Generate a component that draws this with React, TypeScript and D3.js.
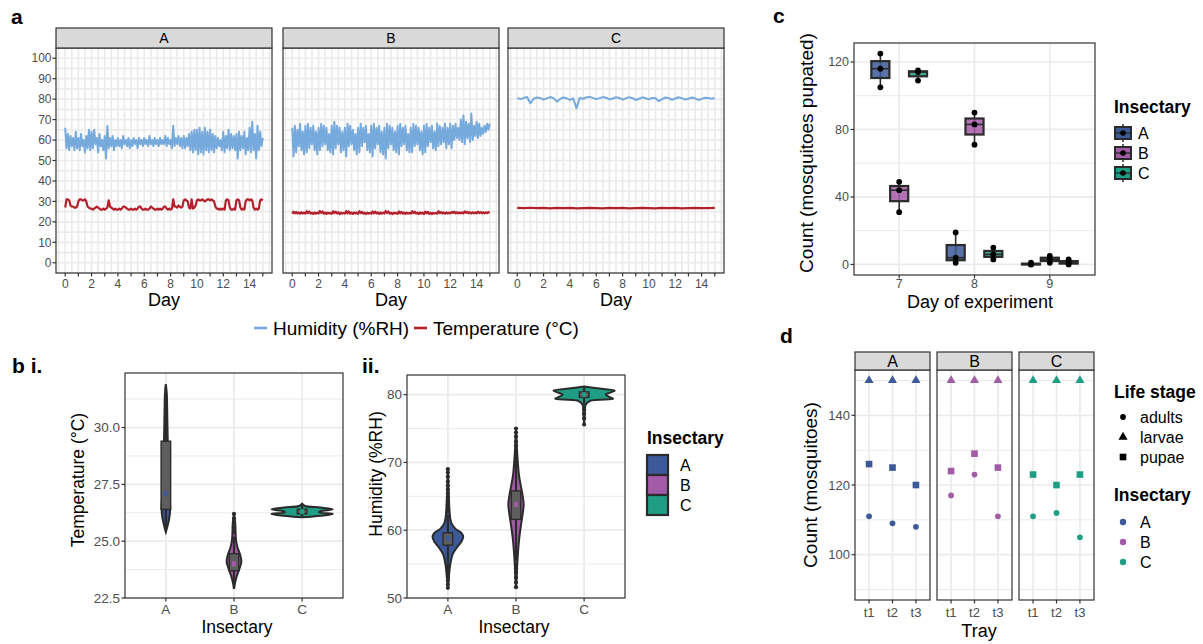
import React, { useEffect, useRef } from 'react';
import * as d3 from 'd3';

const FONT = '"Liberation Sans", Arial, Helvetica, sans-serif';
const INK = '#333333';
const TICK_TEXT = '#4d4d4d';
const GRID = '#ebebeb';

const insectaries = ['A', 'B', 'C'];
const insectaryColors = ['#3c5a9a', '#a35aa7', '#1f9e85'];
const humidityColor = '#76a9dc';
const temperatureColor = '#b3202b';

// a: logger readings, one every 0.1 day (C: humidity every 0.25 day, temperature every 0.5 day)
const humidityA = [
  66, 56, 63, 55, 62, 57, 61, 55, 64, 56,
  61, 55, 63, 57, 60, 54, 62, 56, 65, 55,
  64, 56, 65, 58, 61, 54, 63, 57, 60, 55,
  62, 51, 67, 56, 61, 57, 62, 55, 60, 57,
  61, 57, 60, 56, 62, 58, 60, 57, 61, 56,
  60, 57, 61, 58, 60, 56, 61, 58, 60, 57,
  61, 58, 60, 57, 62, 58, 60, 57, 61, 58,
  60, 57, 61, 58, 60, 58, 62, 57, 61, 58,
  60, 56, 67, 57, 61, 58, 62, 57, 61, 56,
  62, 56, 61, 57, 63, 55, 64, 54, 65, 55,
  65, 53, 66, 54, 64, 53, 66, 55, 64, 54,
  65, 55, 63, 54, 62, 56, 61, 57, 60, 55,
  64, 54, 62, 56, 65, 55, 63, 56, 62, 55,
  63, 51, 64, 55, 62, 56, 64, 53, 61, 55,
  66, 54, 69, 55, 63, 51, 67, 55, 64, 57,
  61,
];
const humidityB = [
  66, 52, 67, 54, 65, 57, 68, 55, 64, 53,
  67, 54, 68, 56, 66, 58, 67, 55, 64, 53,
  66, 55, 68, 57, 67, 58, 66, 55, 63, 54,
  67, 53, 69, 56, 67, 58, 66, 54, 64, 55,
  66, 52, 68, 57, 67, 58, 65, 55, 63, 53,
  66, 54, 68, 57, 66, 59, 67, 55, 63, 54,
  67, 52, 68, 56, 66, 58, 67, 54, 64, 53,
  66, 51, 68, 56, 67, 58, 66, 55, 64, 54,
  67, 53, 68, 57, 66, 58, 67, 55, 63, 54,
  66, 54, 68, 57, 67, 58, 66, 55, 64, 53,
  67, 54, 68, 57, 66, 59, 67, 56, 64, 55,
  68, 57, 67, 58, 66, 59, 68, 56, 66, 58,
  68, 56, 67, 60, 68, 61, 66, 60, 70, 59,
  72, 58, 69, 61, 68, 59, 73, 60, 67, 62,
  69, 61, 68, 62, 66, 63, 67, 64, 68, 65,
  68,
];
const humidityC = [
  80.5, 80.0, 80.6, 81.0, 78.0, 80.2, 80.8, 80.5, 79.8, 80.4,
  81.0, 80.6, 78.8, 80.0, 80.8, 80.4, 79.6, 80.4, 75.5, 80.6,
  80.2, 80.9, 81.1, 80.6, 80.0, 80.5, 81.0, 80.7, 79.9, 80.3,
  80.9, 80.6, 79.8, 80.4, 81.0, 80.5, 79.6, 80.2, 80.9, 80.4,
  79.9, 80.6, 80.4, 79.0, 80.0, 80.8, 80.5, 79.7, 80.3, 80.9,
  80.5, 79.8, 80.2, 80.8, 80.4, 79.6, 80.1, 80.7, 80.6, 80.2,
  80.5,
];
const temperatureA = [
  27, 31, 31, 30.5, 28, 27.5, 27.5, 27, 27, 27.5,
  30, 31, 31, 30.5, 30.5, 31, 30, 27.5, 27, 26.5,
  26.5, 26, 26.5, 27, 27.5, 27, 26.5, 26, 26, 26.5,
  26, 26.5, 27, 30.5, 27.5, 27, 26.5, 26, 26.5, 26,
  26, 26.5, 26, 26.5, 27.5, 27.5, 27, 26.5, 26, 26,
  26.5, 26, 26, 26.5, 26, 26.5, 27.5, 27.5, 26.5, 26,
  26, 26.5, 26, 26, 26.5, 27.5, 27, 26.5, 26, 26,
  26.5, 26, 26.5, 26, 26.5, 27.5, 27.5, 26.5, 26, 26.5,
  26, 26.5, 31, 27.5, 27.5, 27, 28, 27.5, 27, 27.5,
  30.5, 31, 30.5, 30, 27, 26.5, 31, 26.5, 27, 28,
  30.5, 31, 30.5, 30.5, 31, 30.5, 30, 30.5, 31, 31,
  30.5, 31, 30.5, 30, 27.5, 26.5, 26.5, 26, 26.5, 26,
  26.5, 26, 30.5, 31, 30.5, 27, 26, 26, 26.5, 26,
  30.5, 31, 30.5, 27, 26, 26.5, 26, 30, 31, 31,
  30.5, 31, 30.5, 27, 26, 26.5, 26, 26.5, 30.5, 31,
  30.5,
];
const temperatureB = [
  24.0, 25.0, 24.2, 24.8, 24.1, 24.6, 24.0, 24.7, 24.1, 24.5,
  24.0, 25.2, 24.3, 25.0, 24.1, 24.5, 23.9, 24.6, 24.0, 24.5,
  24.1, 25.3, 24.4, 25.1, 24.0, 24.6, 23.9, 24.5, 24.1, 24.4,
  23.9, 25.2, 24.3, 25.0, 24.1, 24.7, 23.8, 24.5, 24.0, 24.4,
  24.0, 25.3, 24.2, 25.1, 24.0, 24.6, 23.9, 24.6, 24.1, 24.5,
  23.9, 25.2, 24.3, 24.9, 24.0, 24.5, 23.8, 24.5, 24.0, 24.4,
  24.0, 25.1, 24.2, 25.0, 24.1, 24.6, 23.9, 24.6, 24.0, 24.5,
  24.1, 25.3, 24.4, 25.1, 24.0, 24.5, 23.8, 24.5, 24.1, 24.4,
  23.9, 25.1, 24.2, 24.9, 24.0, 24.6, 23.9, 24.5, 24.0, 24.4,
  24.0, 25.2, 24.3, 25.0, 24.1, 24.5, 23.8, 24.6, 24.0, 24.5,
  23.8, 25.0, 24.2, 24.9, 23.9, 24.5, 23.8, 24.4, 24.0, 24.4,
  24.0, 25.2, 24.3, 24.8, 24.1, 24.6, 24.0, 24.6, 24.1, 24.5,
  24.1, 24.9, 24.3, 25.0, 24.2, 24.7, 24.1, 24.6, 24.2, 24.6,
  24.2, 25.1, 24.4, 24.9, 24.2, 24.7, 24.1, 24.7, 24.2, 24.6,
  24.2, 25.0, 24.3, 24.8, 24.2, 24.7, 24.2, 24.6, 24.3, 24.7,
  24.5,
];
const temperatureC = [
  26.8, 26.7, 26.9, 26.7, 26.8, 26.6, 26.8, 26.7, 26.8, 26.6,
  26.7, 26.8, 26.7, 26.6, 26.8, 26.7, 26.8, 26.6, 26.7, 26.8,
  26.7, 26.6, 26.8, 26.7, 26.8, 26.6, 26.7, 26.8, 26.7, 26.7,
  26.8,
];
const dayTicks = [0, 1, 2, 3, 4, 5, 6, 7, 8, 9, 10, 11, 12, 13, 14, 15];
const dayLabels = [0, 2, 4, 6, 8, 10, 12, 14];
const aTicks = [0, 10, 20, 30, 40, 50, 60, 70, 80, 90, 100];

// b: violin outlines [value, relative density], box stats [lo, q1, median, q3, hi]
const tempViolinA = [[25.4, 0], [25.7, 0.06], [26.0, 0.11], [26.4, 0.14], [26.8, 0.13], [27.3, 0.1], [28, 0.08], [28.8, 0.07], [29.5, 0.06], [30.2, 0.05], [31.0, 0.04], [31.5, 0.03], [31.9, 0]];
const tempViolinB = [[22.9, 0], [23.2, 0.04], [23.5, 0.1], [23.8, 0.18], [24.1, 0.24], [24.4, 0.2], [24.7, 0.12], [25.0, 0.07], [25.4, 0.05], [25.8, 0.04], [26.2, 0]];
const tempViolinC = [[26.05, 0], [26.12, 0.6], [26.2, 1.0], [26.27, 0.55], [26.32, 0.6], [26.4, 1.0], [26.48, 0.6], [26.55, 0.1], [26.65, 0]];
const tempBoxes = [[25.4, 26.4, 27.1, 29.4, 31.9], [22.9, 23.7, 24.0, 24.45, 25.2], [26.05, 26.2, 26.3, 26.4, 26.65]];
const tempOutliers = [[], [25.4, 25.6, 25.8, 26.0, 26.2], []];
const tempTicks = [22.5, 25.0, 27.5, 30.0];
const tempMinor = [23.75, 26.25, 28.75, 31.25];

const humViolinA = [[51.5, 0], [53, 0.03], [55, 0.08], [56.5, 0.16], [57.5, 0.3], [58.3, 0.44], [59, 0.5], [59.6, 0.44], [60.2, 0.25], [61, 0.12], [62, 0.07], [64, 0.04], [66, 0.02], [69, 0]];
const humViolinB = [[51.5, 0], [53, 0.02], [55, 0.04], [57, 0.07], [59, 0.11], [61, 0.17], [62.5, 0.22], [63.8, 0.25], [65, 0.22], [66.5, 0.16], [68, 0.1], [70, 0.06], [72, 0.03], [75, 0]];
const humViolinC = [[75.5, 0], [77, 0.02], [78.5, 0.05], [79.1, 0.2], [79.4, 0.95], [79.7, 0.8], [80.0, 0.7], [80.3, 0.85], [80.6, 1.0], [80.9, 0.5], [81.2, 0]];
const humBoxes = [[55.2, 57.8, 58.8, 59.6, 62.3], [55.5, 61.6, 63.8, 65.8, 72], [78.5, 79.6, 80.0, 80.4, 81.2]];
const humOutliers = [
  [51.5, 52, 52.6, 53.1, 53.5, 54, 54.4, 54.8, 62.8, 63.3, 63.8, 64.3, 64.9, 65.4, 66, 66.6, 67.2, 67.9, 68.5, 69],
  [51.6, 52.3, 53, 53.7, 54.4, 55, 72.5, 73.1, 73.8, 74.4, 75],
  [75.6, 76.5, 77.2, 77.8],
];
const humTicks = [50, 60, 70, 80];
const humMinor = [55, 65, 75];

// c: mosquitoes pupated per tray, by day (7, 8, 9)
const pupationDays = [7, 8, 9];
const pupatedA = [[125, 116, 105], [19, 4, 1], [0, 0, 1]];
const pupatedB = [[49, 44, 31], [90, 83, 71], [5, 3, 1]];
const pupatedC = [[115, 114, 109], [10, 6, 3], [3, 1, 0]];
const cTicks = [0, 40, 80, 120];
const cMinor = [20, 60, 100];

// d: counts per tray and life stage
const trays = ['t1', 't2', 't3'];
const adultsA = [111, 109, 108];
const adultsB = [117, 123, 111];
const adultsC = [111, 112, 105];
const pupaeA = [126, 125, 120];
const pupaeB = [124, 129, 125];
const pupaeC = [123, 120, 123];
const larvaeA = [150, 150, 150];
const larvaeB = [150, 150, 150];
const larvaeC = [150, 150, 150];
const lifeStages = ['adults', 'larvae', 'pupae'];
const dTicks = [100, 120, 140];
const dMinor = [90, 110, 130, 150];

const App = () => {
  const svgRef = useRef<SVGSVGElement>(null);

  useEffect(() => {
    const svg = d3.select(svgRef.current);
    svg.selectAll('*').remove();
    svg.append('rect').attr('width', 1203).attr('height', 644).attr('fill', '#fff');

    const label = (x: number, y: number, s: string, size: number, opts: any = {}) => {
      const t = svg.append('text')
        .attr('x', x).attr('y', y).text(s)
        .attr('font-family', FONT).attr('font-size', size)
        .attr('fill', opts.fill || '#000')
        .attr('text-anchor', opts.anchor || 'start')
        .attr('font-weight', opts.bold ? 'bold' : 'normal');
      if (opts.rotate) t.attr('transform', `rotate(-90 ${x} ${y})`);
      if (opts.dy) t.attr('dy', opts.dy);
      return t;
    };
    const line = (x1: number, y1: number, x2: number, y2: number, color: string, w: number) =>
      svg.append('line').attr('x1', x1).attr('y1', y1).attr('x2', x2).attr('y2', y2)
        .attr('stroke', color).attr('stroke-width', w);
    const frame = (x: number, y: number, w: number, h: number, sw = 1.2) =>
      svg.append('rect').attr('x', x).attr('y', y).attr('width', w).attr('height', h)
        .attr('fill', 'none').attr('stroke', INK).attr('stroke-width', sw);
    const strip = (x: number, y: number, w: number, h: number, s: string, size: number) => {
      svg.append('rect').attr('x', x).attr('y', y).attr('width', w).attr('height', h)
        .attr('fill', '#d9d9d9').attr('stroke', INK).attr('stroke-width', 1.2);
      label(x + w / 2, y + h / 2, s, size, { anchor: 'middle', dy: '0.36em' });
    };

    // ---------- a ----------
    label(11, 24, 'a', 21, { bold: true });
    const aTop = 48, aBottom = 273, aWidth = 216;
    const aLeft = [56, 283, 508];
    const aY = d3.scaleLinear().domain([-5, 105]).range([aBottom, aTop]);
    const aSeries = [
      { hum: humidityA, hStep: 0.1, temp: temperatureA, tStep: 0.1 },
      { hum: humidityB, hStep: 0.1, temp: temperatureB, tStep: 0.1 },
      { hum: humidityC, hStep: 0.25, temp: temperatureC, tStep: 0.5 },
    ];
    insectaries.forEach((name, i) => {
      const x0 = aLeft[i];
      const x = d3.scaleLinear().domain([-0.7, 15.7]).range([x0, x0 + aWidth]);
      d3.range(-0.5, 15.6, 0.5).forEach(d => line(x(d), aTop, x(d), aBottom, GRID, 1.7));
      d3.range(-5, 106, 5).forEach(v => line(x0, aY(v), x0 + aWidth, aY(v), GRID, 1.7));
      const s = aSeries[i];
      const hLine = d3.line<number>().x((_, j) => x(j * s.hStep)).y(d => aY(d));
      const tLine = d3.line<number>().x((_, j) => x(j * s.tStep)).y(d => aY(d));
      svg.append('path').attr('d', hLine(s.hum)).attr('fill', 'none')
        .attr('stroke', humidityColor).attr('stroke-width', 2).attr('stroke-linejoin', 'round');
      svg.append('path').attr('d', tLine(s.temp)).attr('fill', 'none')
        .attr('stroke', temperatureColor).attr('stroke-width', 2.2).attr('stroke-linejoin', 'round');
      frame(x0, aTop, aWidth, aBottom - aTop);
      strip(x0, 28, aWidth, 20, name, 14);
      dayTicks.forEach(d => line(x(d), aBottom, x(d), aBottom + 3.5, INK, 1.2));
      dayLabels.forEach(d => label(x(d), 288, String(d), 12, { anchor: 'middle', fill: TICK_TEXT }));
      label(x0 + aWidth / 2, 306, 'Day', 18, { anchor: 'middle' });
      if (i === 0) {
        aTicks.forEach(v => {
          line(x0 - 3.5, aY(v), x0, aY(v), INK, 1.2);
          label(x0 - 4.5, aY(v), String(v), 12, { anchor: 'end', fill: TICK_TEXT, dy: '0.35em' });
        });
      }
    });
    // a legend
    line(254, 328, 267, 328, humidityColor, 2.6);
    label(273, 334.5, 'Humidity (%RH)', 19);
    line(414, 328, 427, 328, temperatureColor, 2.6);
    label(433, 334.5, 'Temperature (°C)', 19);

    // ---------- b ----------
    label(12, 373, 'b i.', 21, { bold: true });
    label(362, 373, 'ii.', 21, { bold: true });
    const bPanels = [
      {
        left: 125, right: 343, top: 373, bottom: 598, domain: [22.5, 32.4],
        ticks: tempTicks, minor: tempMinor, fmt: d3.format('.1f'),
        violins: [tempViolinA, tempViolinB, tempViolinC], boxes: tempBoxes, outliers: tempOutliers,
        title: 'Temperature (°C)', titleX: 84, titleY: 480, xTitleX: 237,
      },
      {
        left: 407, right: 625, top: 375, bottom: 598, domain: [50, 82.9],
        ticks: humTicks, minor: humMinor, fmt: d3.format('d'),
        violins: [humViolinA, humViolinB, humViolinC], boxes: humBoxes, outliers: humOutliers,
        title: 'Humidity (%RH)', titleX: 382, titleY: 474, xTitleX: 514,
      },
    ];
    bPanels.forEach(p => {
      const x = d3.scaleLinear().domain([0.4, 3.6]).range([p.left, p.right]);
      const y = d3.scaleLinear().domain(p.domain).range([p.bottom, p.top]);
      const unit = x(1) - x(0);
      p.minor.forEach(v => line(p.left, y(v), p.right, y(v), GRID, 1));
      p.ticks.forEach(v => line(p.left, y(v), p.right, y(v), GRID, 1.7));
      [1, 2, 3].forEach(c => line(x(c), p.top, x(c), p.bottom, GRID, 1.7));
      p.violins.forEach((v, i) => {
        const cx = x(i + 1);
        const area = d3.area<number[]>()
          .y(d => y(d[0]))
          .x0(d => cx - d[1] * 0.45 * unit)
          .x1(d => cx + d[1] * 0.45 * unit)
          .curve(d3.curveCatmullRom);
        svg.append('path').attr('d', area(v as number[][]))
          .attr('fill', insectaryColors[i]).attr('stroke', '#2b2b2b').attr('stroke-width', 2);
        const [lo, q1, med, q3, hi] = p.boxes[i];
        const bw = 0.07 * unit;
        line(cx, y(lo), cx, y(q1), '#2b2b2b', 2.2);
        line(cx, y(q3), cx, y(hi), '#2b2b2b', 2.2);
        p.outliers[i].forEach(o => svg.append('circle').attr('cx', cx).attr('cy', y(o))
          .attr('r', 2.1).attr('fill', '#2b2b2b'));
        svg.append('rect').attr('x', cx - bw).attr('y', y(q3)).attr('width', 2 * bw)
          .attr('height', Math.max(1, y(q1) - y(q3)))
          .attr('fill', '#5e5e5e').attr('stroke', '#2b2b2b').attr('stroke-width', 1.4);
        svg.append('rect').attr('x', cx - 2).attr('y', y(med) - 2.5).attr('width', 4).attr('height', 5)
          .attr('fill', insectaryColors[i]);
      });
      frame(p.left, p.top, p.right - p.left, p.bottom - p.top);
      p.ticks.forEach(v => {
        line(p.left - 3.5, y(v), p.left, y(v), INK, 1.2);
        label(p.left - 5, y(v), p.fmt(v), 13.5, { anchor: 'end', fill: TICK_TEXT, dy: '0.35em' });
      });
      insectaries.forEach((name, i) => {
        line(x(i + 1), p.bottom, x(i + 1), p.bottom + 3.5, INK, 1.2);
        label(x(i + 1), p.bottom + 16, name, 13.5, { anchor: 'middle', fill: TICK_TEXT });
      });
      label(p.xTitleX, 633, 'Insectary', 17.5, { anchor: 'middle' });
      label(p.titleX, p.titleY, p.title, 17.5, { anchor: 'middle', rotate: true });
    });
    // b legend
    label(647, 444, 'Insectary', 17.5, { bold: true });
    insectaries.forEach((name, i) => {
      svg.append('rect').attr('x', 647).attr('y', 455 + i * 20).attr('width', 21).attr('height', 20)
        .attr('fill', insectaryColors[i]).attr('stroke', '#2b2b2b').attr('stroke-width', 2.2);
      label(680, 465 + i * 20, name, 16, { dy: '0.36em' });
    });

    // ---------- c ----------
    label(773, 23, 'c', 21, { bold: true });
    const cL = 854, cR = 1095, cT = 43, cB = 275;
    const cX = d3.scaleLinear().domain([6.4, 9.6]).range([cL, cR]);
    const cY = d3.scaleLinear().domain([-6.25, 131.25]).range([cB, cT]);
    cMinor.forEach(v => line(cL, cY(v), cR, cY(v), GRID, 1));
    cTicks.forEach(v => line(cL, cY(v), cR, cY(v), GRID, 1.7));
    pupationDays.forEach(d => line(cX(d), cT, cX(d), cB, GRID, 1.7));
    const pupated = [pupatedA, pupatedB, pupatedC];
    const cUnit = cX(1) - cX(0);
    pupated.forEach((byDay, i) => {
      byDay.forEach((vals, j) => {
        const cx = cX(pupationDays[j] + (i - 1) * 0.25);
        const s = vals.slice().sort(d3.ascending);
        const q1 = d3.quantile(s, 0.25) as number;
        const med = d3.quantile(s, 0.5) as number;
        const q3 = d3.quantile(s, 0.75) as number;
        const hw = 0.12 * cUnit;
        line(cx, cY(s[0]), cx, cY(s[2]), '#2b2b2b', 1.6);
        svg.append('rect').attr('x', cx - hw).attr('y', cY(q3)).attr('width', 2 * hw)
          .attr('height', Math.max(0.5, cY(q1) - cY(q3)))
          .attr('fill', insectaryColors[i]).attr('fill-opacity', 0.85)
          .attr('stroke', '#2b2b2b').attr('stroke-width', 2.2);
        line(cx - hw, cY(med), cx + hw, cY(med), '#2b2b2b', 1.6);
        s.forEach(v => svg.append('circle').attr('cx', cx).attr('cy', cY(v)).attr('r', 2.9).attr('fill', '#000'));
      });
    });
    frame(cL, cT, cR - cL, cB - cT);
    cTicks.forEach(v => {
      line(cL - 3.5, cY(v), cL, cY(v), INK, 1.2);
      label(cL - 5, cY(v), String(v), 12.5, { anchor: 'end', fill: TICK_TEXT, dy: '0.35em' });
    });
    pupationDays.forEach(d => {
      line(cX(d), cB, cX(d), cB + 3.5, INK, 1.2);
      label(cX(d), 288, String(d), 12.5, { anchor: 'middle', fill: TICK_TEXT });
    });
    label(980, 308, 'Day of experiment', 18, { anchor: 'middle' });
    label(813, 153, 'Count (mosquitoes pupated)', 19, { anchor: 'middle', rotate: true });
    // c legend
    label(1114, 113, 'Insectary', 17.5, { bold: true });
    insectaries.forEach((name, i) => {
      const yc = 133 + i * 20;
      line(1123, yc - 9, 1123, yc + 9, '#2b2b2b', 1.5);
      svg.append('rect').attr('x', 1115).attr('y', yc - 6).attr('width', 16).attr('height', 12)
        .attr('fill', insectaryColors[i]).attr('stroke', '#2b2b2b').attr('stroke-width', 2);
      line(1115, yc, 1131, yc, '#2b2b2b', 1.4);
      svg.append('circle').attr('cx', 1123).attr('cy', yc).attr('r', 2.8).attr('fill', '#000');
      label(1138, yc, name, 16, { dy: '0.36em' });
    });

    // ---------- d ----------
    label(780, 343, 'd', 21, { bold: true });
    const dLeft = [855, 937, 1019], dWidth = 75, dT = 370, dB = 600;
    const dY = d3.scaleLinear().domain([87, 153]).range([dB, dT]);
    const stageCounts = [
      [adultsA, larvaeA, pupaeA],
      [adultsB, larvaeB, pupaeB],
      [adultsC, larvaeC, pupaeC],
    ];
    const shapes = [d3.symbolCircle, d3.symbolTriangle, d3.symbolSquare];
    const shapeSizes = [26, 36, 44];
    insectaries.forEach((name, i) => {
      const x0 = dLeft[i];
      const x = d3.scaleLinear().domain([0.4, 3.6]).range([x0, x0 + dWidth]);
      dMinor.forEach(v => line(x0, dY(v), x0 + dWidth, dY(v), GRID, 1));
      dTicks.forEach(v => line(x0, dY(v), x0 + dWidth, dY(v), GRID, 1.7));
      trays.forEach((_, t) => line(x(t + 1), dT, x(t + 1), dB, GRID, 1.7));
      stageCounts[i].forEach((counts, k) => {
        counts.forEach((v, t) => {
          svg.append('path')
            .attr('d', d3.symbol().type(shapes[k]).size(shapeSizes[k])())
            .attr('transform', `translate(${x(t + 1)},${dY(v)})`)
            .attr('fill', insectaryColors[i]);
        });
      });
      frame(x0, dT, dWidth, dB - dT);
      strip(x0, 352, dWidth, 18, name, 16);
      trays.forEach((tr, t) => {
        line(x(t + 1), dB, x(t + 1), dB + 3.5, INK, 1.2);
        label(x(t + 1), 617, tr, 13, { anchor: 'middle', fill: TICK_TEXT });
      });
      if (i === 0) {
        dTicks.forEach(v => {
          line(x0 - 3.5, dY(v), x0, dY(v), INK, 1.2);
          label(x0 - 5, dY(v), String(v), 13, { anchor: 'end', fill: TICK_TEXT, dy: '0.35em' });
        });
      }
    });
    label(979, 637, 'Tray', 18, { anchor: 'middle' });
    label(817, 485, 'Count (mosquitoes)', 19, { anchor: 'middle', rotate: true });
    // d legends
    label(1114, 398, 'Life stage', 17.5, { bold: true });
    lifeStages.forEach((s, k) => {
      const yc = 417 + k * 20;
      svg.append('path').attr('d', d3.symbol().type(shapes[k]).size(shapeSizes[k])())
        .attr('transform', `translate(1123,${yc})`).attr('fill', '#000');
      label(1140, yc, s, 16, { dy: '0.36em' });
    });
    label(1114, 501, 'Insectary', 17.5, { bold: true });
    insectaries.forEach((name, i) => {
      const yc = 522 + i * 20;
      svg.append('circle').attr('cx', 1123).attr('cy', yc).attr('r', 3.2).attr('fill', insectaryColors[i]);
      label(1140, yc, name, 16, { dy: '0.36em' });
    });
  }, []);

  return (
    <svg ref={svgRef} width={1203} height={644}
      style={{ position: 'absolute', left: 0, top: 0, display: 'block' }} />
  );
};

export default App;
